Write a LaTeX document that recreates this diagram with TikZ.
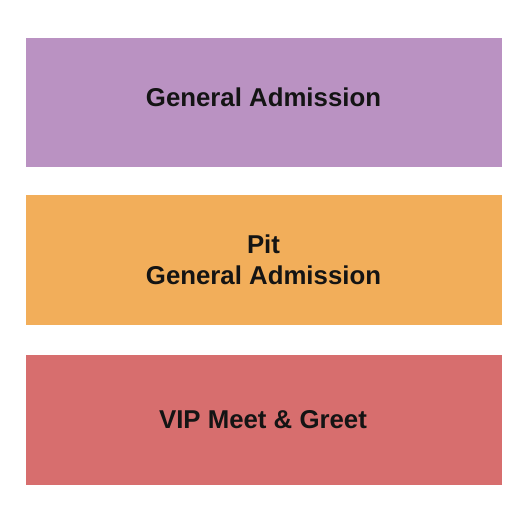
\documentclass[tikz,border=0pt]{standalone}
\usepackage{fontspec}
\setmainfont{Liberation Sans}
\definecolor{gapurple}{RGB}{186,146,194}
\definecolor{pitorange}{RGB}{242,174,90}
\definecolor{vipred}{RGB}{215,110,110}
\begin{document}
\begin{tikzpicture}[x=1pt,y=1pt,
  label/.style={font=\fontsize{25.8}{31}\selectfont\bfseries,text=black!92,align=center,inner sep=0pt}]
\useasboundingbox[fill=white] (0,0) rectangle (525,525);
\fill[gapurple] (26,{525-38}) rectangle (502,{525-167});
\fill[pitorange] (26,{525-195}) rectangle (502,{525-325});
\fill[vipred] (26,{525-355}) rectangle (502,{525-485});
\node[label] (ga) at (263.5,{525-97.5}) {General Admission};
\node[label] (pit) at (263.5,{525-259.5}) {Pit\\General Admission};
\node[label] (vip) at (263,{525-420}) {VIP Meet \& Greet};
\end{tikzpicture}
\end{document}
